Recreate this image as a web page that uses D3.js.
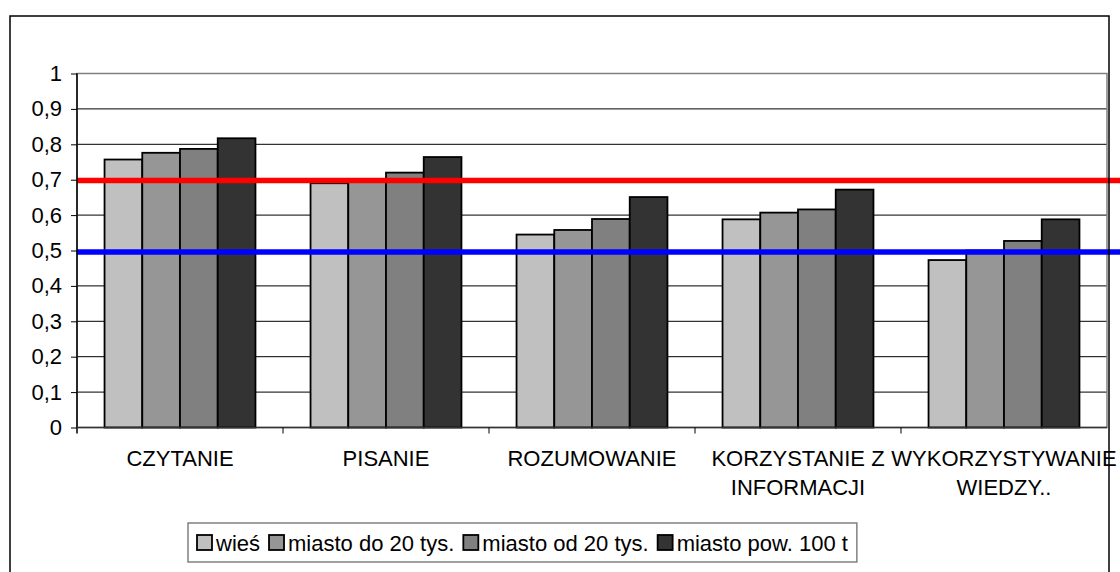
<!DOCTYPE html>
<html>

<head>
    <meta http-equiv="Content-Type" content="text/html;" charset="utf-8">
    <script type="text/javascript" src="https://cdn.jsdelivr.net/npm/d3@7/dist/d3.min.js"></script>
    <style>
        body { margin: 0; background: #fff; }
        svg { display: block; }
        text { font-family: "Liberation Sans", Arial, sans-serif; fill: #000; }
    </style>
</head>

<body>
    <div class="chart-div"></div>
    <script type="text/javascript">

        var width = 1120;
        var height = 572;

        //--------------------------------------------DATA

        var categories = ["CZYTANIE", "PISANIE", "ROZUMOWANIE", "KORZYSTANIE Z INFORMACJI", "WYKORZYSTYWANIE WIEDZY.."]
        var categoryLines = [["CZYTANIE"], ["PISANIE"], ["ROZUMOWANIE"], ["KORZYSTANIE Z", "INFORMACJI"], ["WYKORZYSTYWANIE", "WIEDZY.."]]
        var seriesNames = ["wieś", "miasto do 20 tys.", "miasto od 20 tys.", "miasto pow. 100 t"]
        var seriesColors = ["#c0c0c0", "#969696", "#808080", "#333333"]

        var wies = [0.757, 0.690, 0.545, 0.588, 0.473]
        var miastoDo20 = [0.776, 0.700, 0.558, 0.607, 0.500]
        var miastoOd20 = [0.787, 0.720, 0.589, 0.616, 0.527]
        var miastoPow100 = [0.817, 0.764, 0.651, 0.672, 0.588]
        var seriesValues = [wies, miastoDo20, miastoOd20, miastoPow100]

        var yTicks = [0, 0.1, 0.2, 0.3, 0.4, 0.5, 0.6, 0.7, 0.8, 0.9, 1]
        var refLines = [{ value: 0.698, color: "#ff0000" }, { value: 0.496, color: "#0000ff" }]

        var fontSize = 22

        //--------------------------------------------CONTAINERS

        var svg = d3.select("div.chart-div")
            .append("svg")
            .attr("width", width)
            .attr("height", height);

        var plotLeft = 77, plotRight = 1107, plotTop = 73.5, plotBottom = 427.5

        var x0 = d3.scaleBand().domain(categories).range([plotLeft, plotRight]).padding(0)
        var x1 = d3.scaleBand().domain(seriesNames).range([0, x0.bandwidth()])
            .paddingInner(0).paddingOuter(0.73)
        var y = d3.scaleLinear().domain([0, 1]).range([plotBottom, plotTop])

        var fmt = d3.formatLocale({ decimal: ",", thousands: " ", grouping: [3], currency: ["", " zł"] }).format(".1~f")

        //------------------------------------------ GRID

        var grid = svg.append("g")
        grid.selectAll("line.grid")
            .data(yTicks.slice(1, -1))
            .enter().append("line")
            .attr("class", "grid")
            .attr("x1", plotLeft).attr("x2", plotRight)
            .attr("y1", function (d) { return y(d); })
            .attr("y2", function (d) { return y(d); })
            .attr("stroke", "#000")
            .attr("stroke-width", 1);

        grid.append("rect")
            .attr("x", plotLeft).attr("y", y(1))
            .attr("width", plotRight - plotLeft).attr("height", y(0) - y(1))
            .attr("fill", "none")
            .attr("stroke", "#808080")
            .attr("stroke-width", 1.5);

        //------------------------------------------ BARS

        var groups = svg.append("g").selectAll("g.cat")
            .data(categories)
            .enter().append("g")
            .attr("class", "cat")
            .attr("transform", function (d) { return "translate(" + x0(d) + ",0)"; });

        groups.selectAll("rect")
            .data(function (d, i) {
                return seriesNames.map(function (s, j) { return { s: s, v: seriesValues[j][i], c: seriesColors[j] }; });
            })
            .enter().append("rect")
            .attr("x", function (d) { return x1(d.s); })
            .attr("y", function (d) { return y(d.v); })
            .attr("width", x1.bandwidth())
            .attr("height", function (d) { return y(0) - y(d.v); })
            .attr("fill", function (d) { return d.c; })
            .attr("stroke", "#000")
            .attr("stroke-width", 1.8);

        //------------------------------------------ REFERENCE LINES

        svg.append("g").selectAll("line.ref")
            .data(refLines)
            .enter().append("line")
            .attr("class", "ref")
            .attr("x1", plotLeft).attr("x2", width)
            .attr("y1", function (d) { return y(d.value); })
            .attr("y2", function (d) { return y(d.value); })
            .attr("stroke", function (d) { return d.color; })
            .attr("stroke-width", 5.5);

        //------------------------------------------ AXES

        var yAxis = d3.axisLeft(y).tickValues(yTicks).tickSize(6).tickPadding(9).tickFormat(fmt)
        var yg = svg.append("g")
            .attr("transform", "translate(" + plotLeft + ",0)")
            .call(yAxis);
        yg.select(".domain").attr("d", "M0," + (y(1)) + "V" + (y(0) + 6)).attr("stroke", "#000").attr("stroke-width", 1.5);
        yg.selectAll(".tick line").attr("stroke", "#000");
        yg.selectAll("text")
            .attr("font-family", "Liberation Sans, Arial, sans-serif")
            .attr("font-size", fontSize)
            .attr("fill", "#000");

        var xg = svg.append("g")
        xg.append("line")
            .attr("x1", plotLeft).attr("x2", plotRight)
            .attr("y1", y(0)).attr("y2", y(0))
            .attr("stroke", "#333").attr("stroke-width", 1.5);
        xg.selectAll("line.xtick")
            .data(categories.slice(1))
            .enter().append("line")
            .attr("class", "xtick")
            .attr("x1", function (d) { return x0(d); })
            .attr("x2", function (d) { return x0(d); })
            .attr("y1", y(0)).attr("y2", y(0) + 6)
            .attr("stroke", "#000");

        xg.selectAll("text.xlab")
            .data(categories)
            .enter().append("text")
            .attr("class", "xlab")
            .attr("x", function (d) { return x0(d) + x0.bandwidth() / 2; })
            .attr("y", 466)
            .attr("text-anchor", "middle")
            .attr("font-size", fontSize)
            .each(function (d, i) {
                var t = d3.select(this);
                categoryLines[i].forEach(function (line, k) {
                    t.append("tspan")
                        .attr("x", x0(d) + x0.bandwidth() / 2)
                        .attr("dy", k === 0 ? 0 : 29)
                        .text(line);
                });
            });

        //------------------------------------------ LEGEND

        var legend = svg.append("g")
        var legBox = legend.append("rect")
            .attr("y", 523).attr("height", 39)
            .attr("fill", "#fff")
            .attr("stroke", "#808080")
            .attr("stroke-width", 1.5);

        var lx = 197
        seriesNames.forEach(function (s, j) {
            legend.append("rect")
                .attr("x", lx).attr("y", 535)
                .attr("width", 15).attr("height", 15)
                .attr("fill", seriesColors[j])
                .attr("stroke", "#000")
                .attr("stroke-width", 1.8);
            var t = legend.append("text")
                .attr("x", lx + 19).attr("y", 551)
                .attr("font-size", fontSize)
                .text(s);
            lx = lx + 19 + t.node().getComputedTextLength() + 9;
        });
        legBox.attr("x", 188).attr("width", lx - 188);

        //------------------------------------------ OUTER BORDER

        svg.append("rect")
            .attr("x", 10).attr("y", 16)
            .attr("width", 1099).attr("height", 600)
            .attr("fill", "none")
            .attr("stroke", "#000")
            .attr("stroke-width", 1.5);

    </script>

</body>

</html>
